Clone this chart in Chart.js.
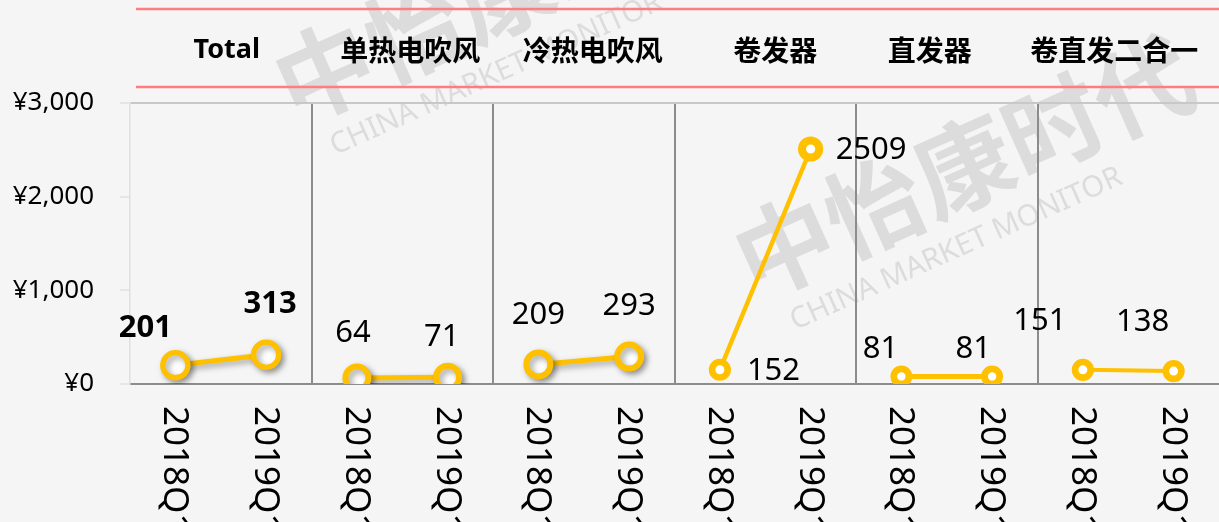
<!DOCTYPE html>
<html>
<head>
<meta charset="utf-8">
<script src="https://cdn.jsdelivr.net/npm/chart.js@4"></script>
<style>
  html, body { margin: 0; padding: 0; background: #f5f5f5; overflow: hidden; }
  canvas { display: block; }
</style>
</head>
<body>
<canvas id="chart" width="1237" height="522"></canvas>
<script>
  "use strict";

  // data
  const groups = ["Total", "单热电吹风", "冷热电吹风", "卷发器", "直发器", "卷直发二合一"];
  const periods = ["2018Q1", "2019Q1"];
  const values2018 = [201, 64, 209, 152, 81, 151];
  const values2019 = [313, 71, 293, 2509, 81, 138];
  const yTicks = [0, 1000, 2000, 3000];

  // styles (per group)
  const YELLOW = "#FFC000";
  const pointRadius = [12.6, 11.5, 12, [7.8, 8.6], 7.6, 7.8];
  const pointBorder = [5.3, 6, 6, [6.6, 8], 6.8, 6.6];
  const lineWidth = [5, 5, 5, 4.5, 5, 4];
  const shadowed = [true, true, true, false, false, false];
  // label offsets from the point: [dx, dy, align]
  const labelPos = [
    [[-30, -37, "center"], [4, -51, "center"]],
    [[-4, -45, "center"], [-6, -40, "center"]],
    [[0, -49, "center"], [0, -50, "center"]],
    [[27, 1, "left"], [25, 1, "left"]],
    [[-21, -27, "center"], [-19, -27, "center"]],
    [[-43, -49, "center"], [-31, -49, "center"]],
  ];
  const headerDx = [6, 8, 9, 10, -17, -14];

  const labels = [];
  groups.forEach(() => periods.forEach((p) => labels.push(p)));

  const datasets = groups.map((g, i) => {
    const data = new Array(labels.length).fill(null);
    data[i * 2] = values2018[i];
    data[i * 2 + 1] = values2019[i];
    const r = pointRadius[i], b = pointBorder[i];
    return {
      label: g,
      data,
      borderColor: YELLOW,
      backgroundColor: "#ffffff",
      borderWidth: lineWidth[i],
      pointBorderColor: YELLOW,
      pointBackgroundColor: "#ffffff",
      pointRadius: Array.isArray(r) ? data.map((_, k) => (k === i * 2 ? r[0] : r[1])) : r,
      pointBorderWidth: Array.isArray(b) ? data.map((_, k) => (k === i * 2 ? b[0] : b[1])) : b,
      pointHoverRadius: 0,
      spanGaps: false,
      tension: 0,
    };
  });

  const NUM_FONT = '"Noto Sans", "Open Sans", sans-serif';
  const CJK_FONT = '"Noto Sans CJK SC", "Noto Sans", sans-serif';

  // background watermark
  const watermark = {
    id: "watermark",
    beforeDraw(chart) {
      const ctx = chart.ctx;
      ctx.save();
      ctx.fillStyle = "rgba(190,190,190,0.45)";
      const mark = (x, y, size) => {
        ctx.save();
        ctx.translate(x, y);
        ctx.rotate(-0.42);
        ctx.font = `bold ${size}px ${CJK_FONT}`;
        ctx.textBaseline = "alphabetic";
        ctx.fillText("中怡康时代", 0, 0);
        ctx.font = `${size * 0.3}px ${NUM_FONT}`;
        ctx.fillText("CHINA MARKET MONITOR", size * 0.25, size * 0.45);
        ctx.restore();
      };
      mark(755, 300, 98);
      mark(295, 125, 98);
      ctx.restore();
    },
  };

  // shadow under markers for some groups
  const markerShadow = {
    id: "markerShadow",
    beforeDatasetDraw(chart, args) {
      if (!shadowed[args.index]) return;
      const ctx = chart.ctx;
      ctx.save();
      ctx.shadowColor = "rgba(0,0,0,0.35)";
      ctx.shadowBlur = 6;
      ctx.shadowOffsetX = 3;
      ctx.shadowOffsetY = 3;
    },
    afterDatasetDraw(chart, args) {
      if (!shadowed[args.index]) return;
      chart.ctx.restore();
    },
  };

  // value labels, x labels, header
  const decorations = {
    id: "decorations",
    afterDatasetsDraw(chart) {
      const ctx = chart.ctx;
      ctx.save();
      ctx.fillStyle = "#000";
      ctx.textBaseline = "middle";
      chart.data.datasets.forEach((ds, i) => {
        const meta = chart.getDatasetMeta(i);
        [i * 2, i * 2 + 1].forEach((idx, k) => {
          const pt = meta.data[idx];
          const [dx, dy, align] = labelPos[i][k];
          ctx.font = i === 0 ? `bold 31px ${NUM_FONT}` : `31px ${NUM_FONT}`;
          ctx.textAlign = align;
          ctx.fillText(String(ds.data[idx]), pt.x + dx, pt.y + dy);
        });
      });

      // rotated category labels
      const xs = chart.scales.x;
      ctx.font = `35px ${NUM_FONT}`;
      ctx.textAlign = "left";
      labels.forEach((lab, idx) => {
        const x = xs.getPixelForValue(idx);
        ctx.save();
        ctx.translate(x - 1, chart.chartArea.bottom + 22);
        ctx.rotate(Math.PI / 2);
        ctx.fillText(lab, 0, 0);
        ctx.restore();
      });

      // header band
      ctx.strokeStyle = "#FF7C80";
      ctx.lineWidth = 2.5;
      [9, 87].forEach((y) => {
        ctx.beginPath();
        ctx.moveTo(136, y);
        ctx.lineTo(chart.width, y);
        ctx.stroke();
      });
      ctx.textAlign = "center";
      groups.forEach((g, i) => {
        const x = (xs.getPixelForValue(i * 2) + xs.getPixelForValue(i * 2 + 1)) / 2 + headerDx[i];
        ctx.font = i === 0 ? `bold 27px ${NUM_FONT}` : `bold 28px ${CJK_FONT}`;
        ctx.fillText(g, x, 50);
      });
      ctx.restore();
    },
  };

  new Chart(document.getElementById("chart"), {
    type: "line",
    data: { labels, datasets },
    plugins: [watermark, markerShadow, decorations],
    options: {
      responsive: false,
      animation: false,
      layout: { padding: { top: 103, right: 3, left: 0, bottom: 0 } },
      plugins: { legend: { display: false }, tooltip: { enabled: false } },
      scales: {
        x: {
          offset: true,
          ticks: { display: false },
          grid: {
            offset: true,
            drawTicks: false,
            lineWidth: 2,
            color: (c) => (c.index > 0 && c.index % 2 === 0 ? "#8c8c8c" : "transparent"),
          },
          border: { display: true, color: "#8c8c8c", width: 2 },
          afterFit: (s) => { s.height = 138; },
        },
        y: {
          min: 0,
          max: 3000,
          afterBuildTicks: (s) => { s.ticks = yTicks.map((v) => ({ value: v })); },
          ticks: {
            color: "#000",
            padding: 26,
            font: { size: 26, family: NUM_FONT },
            callback: (v) => "¥" + Number(v).toLocaleString("en-US"),
          },
          grid: {
            drawTicks: true,
            tickLength: 10,
            tickColor: "#e6e6e6",
            lineWidth: 2,
            color: (c) => (c.tick && c.tick.value === 3000 ? "#c8c8c8" : "transparent"),
          },
          border: { display: true, color: "#e0e0e0", width: 1.5 },
          afterFit: (s) => { s.width = 130; },
        },
      },
    },
  });
</script>
</body>
</html>
